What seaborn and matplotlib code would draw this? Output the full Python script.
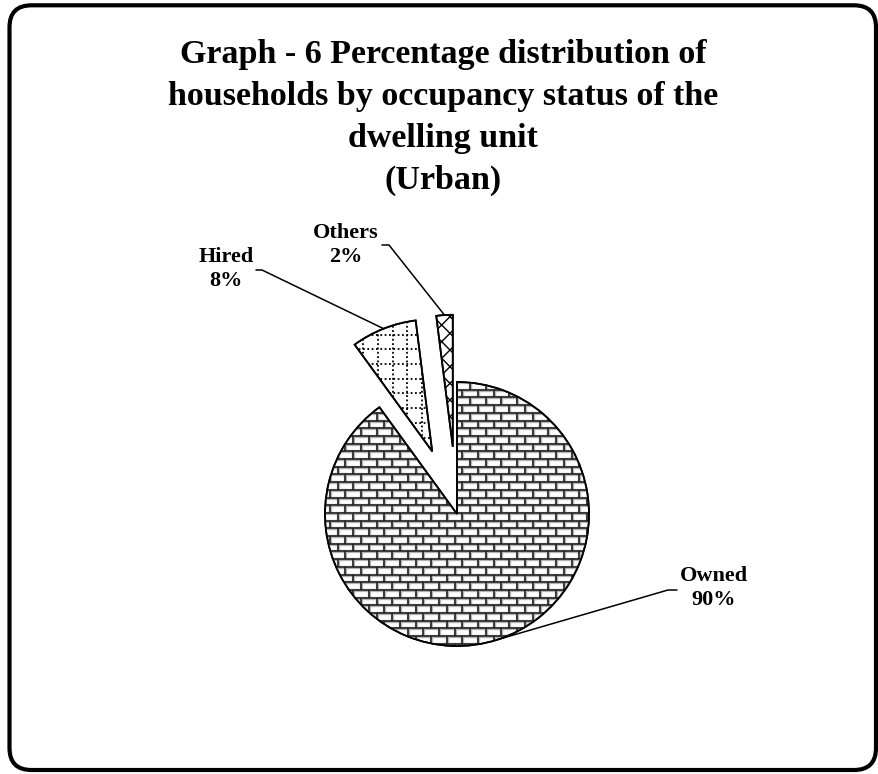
import numpy as np
import matplotlib
matplotlib.use("Agg")
import matplotlib.pyplot as plt
from matplotlib.collections import LineCollection
from matplotlib.patches import FancyBboxPatch, Wedge
from matplotlib.transforms import IdentityTransform
import seaborn as sns

# Occupancy status of urban dwelling units (% of households)
categories = ["Owned", "Hired", "Others"]
shares = [90, 8, 2]
labels = ["Owned\n90%", "Hired\n8%", "Others\n2%"]

title = ("Graph - 6 Percentage distribution of\n"
         "households by occupancy status of the\n"
         "dwelling unit\n(Urban)")

sns.set_theme(style="white")
plt.rcParams["font.family"] = ["Liberation Serif", "DejaVu Serif"]
plt.rcParams["text.color"] = "black"
plt.rcParams["hatch.linewidth"] = 1.0

W, H, DPI = 879, 774, 100
fig = plt.figure(figsize=(W / DPI, H / DPI), dpi=DPI)

# square axes: pie radius of 1 data unit ~ 132 px
R_PX = 132.0
L = 1.8
cx, cy = 457.0, 514.0
size = 2 * L * R_PX
ax = fig.add_axes([(cx - size / 2) / W, (H - cy - size / 2) / H, size / W, size / H])

wedges, _ = ax.pie(
    shares,
    startangle=90,
    counterclock=False,
    explode=[0, 0.51, 0.51],
    radius=1.0,
    wedgeprops=dict(edgecolor="black", linewidth=1.2, facecolor="white"),
)
ax.set_xlim(-L, L)
ax.set_ylim(-L, L)
ax.set_aspect("equal")
ax.axis("off")
owned, hired, others = wedges

# brick fill for "Owned"
h = 7.7 / R_PX
w = 15.6 / R_PX
segs = []
nrows = int(2.4 / h) + 2
for k in range(nrows):
    y0 = 1.0 - k * h
    y1 = y0 - h
    segs.append([(-1.2, y0), (1.2, y0)])
    off = (k % 2) * w / 2
    x = -1.2 + off
    while x < 1.2:
        segs.append([(x, y0), (x, y1)])
        x += w
halo = LineCollection(segs, colors="#b4b4b4", linewidths=2.4, zorder=2)
bricks = LineCollection(segs, colors="#1a1a1a", linewidths=1.1, zorder=3)
for lc in (halo, bricks):
    ax.add_collection(lc)
    lc.set_clip_path(owned)

# dotted grid fill for "Hired"
g = 14.7 / R_PX
gsegs = []
for xv in np.arange(-1.6, 0.6, g):
    gsegs.append([(xv, -0.2), (xv, 2.0)])
for yv in np.arange(-0.2, 2.0, g):
    gsegs.append([(-1.6, yv), (0.6, yv)])
grid = LineCollection(gsegs, colors="black", linewidths=1.3,
                      linestyles=[(0, (1, 1.4))], zorder=3)
ax.add_collection(grid)
grid.set_clip_path(hired)

# cross hatch for "Others"
others.set_hatch("xx")

# wedge outlines above the fills
for wd in wedges:
    ax.add_patch(Wedge(wd.center, wd.r, wd.theta1, wd.theta2,
                       facecolor="none", edgecolor="black",
                       linewidth=1.3, zorder=5))


def arc_mid(wd):
    a = np.deg2rad((wd.theta1 + wd.theta2) / 2)
    return wd.center[0] + wd.r * np.cos(a), wd.center[1] + wd.r * np.sin(a)


def px(xp, yp):
    return (xp - cx) / R_PX, (cy - yp) / R_PX


font = dict(fontsize=16, fontweight="bold", ha="center", va="center",
            linespacing=1.3, color="black",
            family=["Liberation Serif", "DejaVu Serif"])

# label text positions and leader elbows (pixel layout)
label_layout = {
    "Owned": dict(text=(714, 588), elbow=[(677, 590), (668, 590)]),
    "Hired": dict(text=(226, 269), elbow=[(256, 270), (262, 270)]),
    "Others": dict(text=(346, 245), elbow=[(382, 245), (389, 245)]),
}

for wd, cat, lab in zip(wedges, categories, labels):
    lay = label_layout[cat]
    tx, ty = px(*lay["text"])
    ax.text(tx, ty, lab, clip_on=False, **font)
    pts = [px(*p) for p in lay["elbow"]] + [arc_mid(wd)]
    ax.plot([p[0] for p in pts], [p[1] for p in pts], color="black",
            linewidth=1.1, clip_on=False, zorder=6)

fig.text(443 / W, 1 - 39 / H, title, ha="center", va="top", fontsize=24.5,
         fontweight="bold", linespacing=1.45, color="black",
         family=["Liberation Serif", "DejaVu Serif"])

# rounded frame
frame = FancyBboxPatch((9.5, 4.0), 866.5, 764.7,
                       boxstyle="round,pad=0,rounding_size=22",
                       transform=IdentityTransform(), facecolor="none",
                       edgecolor="black", linewidth=3.0)
fig.patches.append(frame)

fig.savefig("out.png", dpi=DPI)
